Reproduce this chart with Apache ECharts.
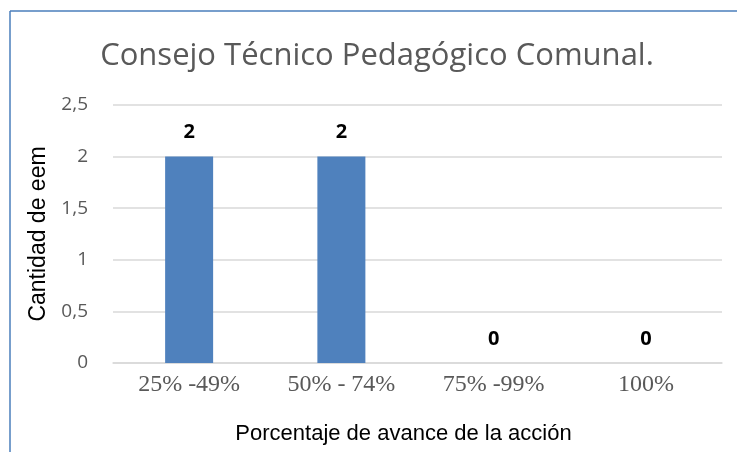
<!DOCTYPE html>
<html>
<head>
<meta charset="utf-8">
<script src="https://cdn.jsdelivr.net/npm/echarts@6/dist/echarts.min.js"></script>
<style>
  html, body { margin: 0; padding: 0; background: #fff; }
  #chart { width: 737px; height: 452px; }
</style>
</head>
<body>
<div id="chart"></div>
<script>
  const categories = ['25% -49%', '50% - 74%', '75% -99%', '100%']
  const values = [2, 2, 0, 0]
  const yTicks = [0, 0.5, 1, 1.5, 2, 2.5]

  const chart = echarts.init(document.getElementById('chart'))
  chart.setOption({
    animation: false,
    title: {
      text: 'Consejo Técnico Pedagógico Comunal.',
      left: 372,
      textAlign: 'center',
      top: 36,
      textStyle: {
        fontFamily: 'Open Sans',
        fontWeight: 'normal',
        fontSize: 31,
        color: '#595959'
      }
    },
    graphic: [
      { type: 'line', shape: { x1: 10, y1: 11, x2: 737, y2: 11 }, style: { stroke: '#4a7ebb', lineWidth: 1.5 } },
      { type: 'line', shape: { x1: 10, y1: 11, x2: 10, y2: 452 }, style: { stroke: '#4a7ebb', lineWidth: 1.5 } }
    ],
    grid: { left: 113, right: 15, top: 105, bottom: 89 },
    xAxis: {
      type: 'category',
      data: categories,
      name: 'Porcentaje de avance de la acción',
      nameLocation: 'middle',
      nameGap: 60,
      nameTextStyle: { fontFamily: 'Liberation Sans', fontSize: 22, color: '#000', padding: [0, 28, 0, 0] },
      axisTick: { show: false },
      axisLine: { lineStyle: { color: '#d9d9d9', width: 1.5 } },
      axisLabel: {
        margin: 10,
        fontFamily: 'Liberation Serif',
        fontSize: 24,
        color: '#595959'
      }
    },
    yAxis: {
      type: 'value',
      min: yTicks[0],
      max: yTicks[yTicks.length - 1],
      interval: 0.5,
      name: 'Cantidad de eem',
      nameLocation: 'middle',
      nameGap: 59,
      nameTextStyle: { fontFamily: 'Liberation Sans', fontSize: 23, color: '#000' },
      axisLine: { show: false },
      axisTick: { show: false },
      splitLine: { lineStyle: { color: '#d9d9d9', width: 1.5 } },
      axisLabel: {
        margin: 25,
        fontFamily: 'Open Sans',
        fontSize: 19,
        color: '#595959',
        formatter: v => String(v).replace('.', ',')
      }
    },
    series: [{
      type: 'bar',
      data: values,
      barWidth: 48,
      itemStyle: { color: '#4f81bd' },
      label: {
        show: true,
        position: 'top',
        distance: 14,
        fontFamily: 'Open Sans',
        fontSize: 20,
        fontWeight: 'bold',
        color: '#000'
      }
    }]
  })
</script>
</body>
</html>
